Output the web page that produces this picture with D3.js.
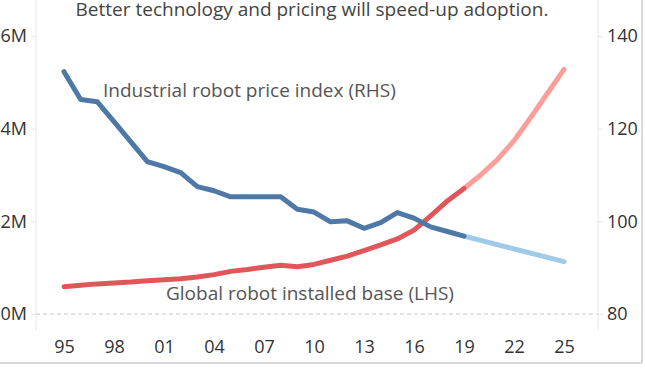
<!DOCTYPE html>
<html><head><meta charset="utf-8">
<script src="https://cdn.jsdelivr.net/npm/d3@7"></script>
<style>
html,body{margin:0;padding:0;background:#fff;}
svg{display:block;font-family:"Open Sans",sans-serif;}
</style></head>
<body><svg id="c" width="645" height="369"></svg>
<script>
// ---- data ----
const years = d3.range(1995, 2020);
const priceIndex = [132.3,126.3,125.8,121.5,117.2,112.9,111.8,110.5,107.5,106.6,105.3,105.3,105.3,105.3,102.6,102.0,99.9,100.1,98.5,99.7,101.9,100.7,98.8,97.8,96.8];
const priceForecastYears = [2019, 2025];
const priceForecast = [96.8, 91.3];
const installedBase = [0.59,0.62,0.65,0.67,0.69,0.72,0.74,0.76,0.80,0.85,0.92,0.96,1.01,1.05,1.02,1.07,1.16,1.25,1.37,1.49,1.62,1.81,2.12,2.44,2.71];
const baseForecastYears = [2019,2020,2021,2022,2023,2024,2025];
const baseForecast = [2.71,3.0,3.33,3.74,4.24,4.76,5.28];
const xTicks = [1995,1998,2001,2004,2007,2010,2013,2016,2019,2022,2025];
const leftTicks = [0,2,4,6];
const rightTicks = [80,100,120,140];
const title = "Better technology and pricing will speed-up adoption.";
const priceLabel = "Industrial robot price index (RHS)";
const baseLabel = "Global robot installed base (LHS)";

const svg = d3.select("#c");
const x = d3.scaleLinear().domain([1995, 2025]).range([64, 564]);
const yL = d3.scaleLinear().domain([0, 6]).range([314, 36]);
const yR = d3.scaleLinear().domain([80, 140]).range([314, 36]);

// frame
svg.append("line").attr("x1",0).attr("x2",642).attr("y1",363).attr("y2",363).attr("stroke","#d9d9d9").attr("stroke-width",2);
svg.append("line").attr("x1",642).attr("x2",642).attr("y1",0).attr("y2",363).attr("stroke","#d9d9d9").attr("stroke-width",2);

// zero gridline
svg.append("line").attr("x1",36).attr("x2",598).attr("y1",yL(0)).attr("y2",yL(0))
  .attr("stroke","#c8c8c8").attr("stroke-dasharray","4,3").attr("stroke-width",1);

const tickFont = 18;
// left axis
const gL = svg.append("g").attr("transform","translate(36,0)")
  .call(d3.axisLeft(yL).tickValues(leftTicks).tickSize(5).tickPadding(4).tickFormat(d => d + "M"));
gL.select(".domain").attr("d","M0,0V330").attr("stroke","#e8e8e8");
gL.selectAll(".tick line").attr("stroke","#e8e8e8");
gL.selectAll("text").attr("font-size",tickFont).attr("fill","#333").attr("font-family","Open Sans");

// right axis
const gR = svg.append("g").attr("transform","translate(598,0)")
  .call(d3.axisRight(yR).tickValues(rightTicks).tickSize(5).tickPadding(4));
gR.select(".domain").attr("d","M0,0V330").attr("stroke","#e8e8e8");
gR.selectAll(".tick line").attr("stroke","#e8e8e8");
gR.selectAll("text").attr("font-size",tickFont).attr("fill","#333").attr("font-family","Open Sans");

// x axis
const gX = svg.append("g").attr("transform","translate(0,340)")
  .call(d3.axisBottom(x).tickValues(xTicks).tickSize(0).tickPadding(0).tickFormat(d => String(d).slice(2)));
gX.select(".domain").remove();
gX.selectAll("text").attr("font-size",tickFont).attr("fill","#333").attr("font-family","Open Sans");

// lines
const lineL = d3.line().x(d => x(d[0])).y(d => yL(d[1]));
const lineR = d3.line().x(d => x(d[0])).y(d => yR(d[1]));

svg.append("path").datum(baseForecastYears.map((yr,i)=>[yr, baseForecast[i]]))
  .attr("d", lineL).attr("fill","none").attr("stroke","#ff9d9a").attr("stroke-width",5).attr("stroke-linecap","round").attr("stroke-linejoin","round");
svg.append("path").datum(priceForecastYears.map((yr,i)=>[yr, priceForecast[i]]))
  .attr("d", lineR).attr("fill","none").attr("stroke","#a0cbe8").attr("stroke-width",5).attr("stroke-linecap","round").attr("stroke-linejoin","round");
svg.append("path").datum(years.map((yr,i)=>[yr, installedBase[i]]))
  .attr("d", lineL).attr("fill","none").attr("stroke","#e15759").attr("stroke-width",5).attr("stroke-linecap","round").attr("stroke-linejoin","round");
svg.append("path").datum(years.map((yr,i)=>[yr, priceIndex[i]]))
  .attr("d", lineR).attr("fill","none").attr("stroke","#4e79a7").attr("stroke-width",5).attr("stroke-linecap","round").attr("stroke-linejoin","round");

// texts
svg.append("text").attr("x",312).attr("y",16).attr("text-anchor","middle")
  .attr("font-size",19).attr("fill","#444").text(title);
svg.append("text").attr("x",103).attr("y",97)
  .attr("font-size",19).attr("fill","#555").text(priceLabel);
svg.append("text").attr("x",166).attr("y",300)
  .attr("font-size",19).attr("fill","#555").text(baseLabel);
</script></body></html>
